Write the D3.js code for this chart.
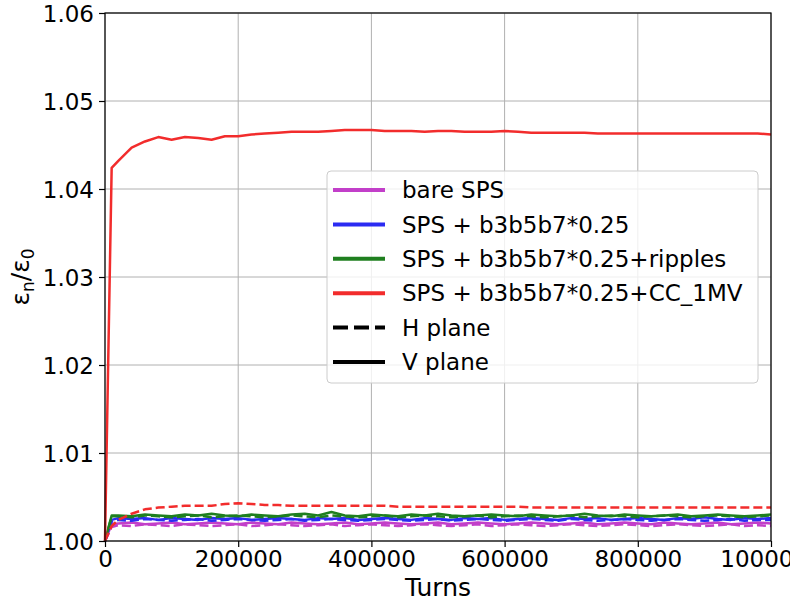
<!DOCTYPE html>
<html>
<head>
<meta charset="utf-8">
<script src="https://cdn.jsdelivr.net/npm/d3@7"></script>
<style>
  html, body { margin: 0; padding: 0; background: #fff; }
  svg { display: block; font-family: "DejaVu Sans", sans-serif; }
</style>
</head>
<body>
<svg id="chart" width="790" height="602"></svg>
<script>
// ---------- DATA ----------
const turns = [0, 10000, 20000, 40000, 60000, 80000, 100000, 120000, 140000, 160000, 180000,
  200000, 220000, 240000, 260000, 280000, 300000, 320000, 340000, 360000, 380000,
  400000, 420000, 440000, 460000, 480000, 500000, 520000, 540000, 560000, 580000,
  600000, 620000, 640000, 660000, 680000, 700000, 720000, 740000, 760000, 780000,
  800000, 820000, 840000, 860000, 880000, 900000, 920000, 940000, 960000, 980000, 1000000];

const magentaH = [1.0000, 1.0016, 1.0018, 1.0017, 1.0019, 1.0018, 1.0017, 1.0019, 1.0018, 1.0017, 1.0018,
  1.0019, 1.0017, 1.0018, 1.0019, 1.0018, 1.0017, 1.0018, 1.0019, 1.0017, 1.0018,
  1.0019, 1.0018, 1.0017, 1.0018, 1.0019, 1.0018, 1.0017, 1.0018, 1.0019, 1.0017,
  1.0018, 1.0019, 1.0018, 1.0017, 1.0018, 1.0019, 1.0018, 1.0017, 1.0018, 1.0019,
  1.0018, 1.0017, 1.0018, 1.0019, 1.0018, 1.0017, 1.0018, 1.0019, 1.0017, 1.0018, 1.0017];
const magentaV = [1.0000, 1.0019, 1.0020, 1.0021, 1.0019, 1.0020, 1.0021, 1.0019, 1.0020, 1.0021, 1.0020,
  1.0019, 1.0021, 1.0020, 1.0019, 1.0021, 1.0020, 1.0019, 1.0020, 1.0021, 1.0019,
  1.0020, 1.0021, 1.0020, 1.0019, 1.0020, 1.0021, 1.0019, 1.0020, 1.0021, 1.0020,
  1.0019, 1.0020, 1.0021, 1.0020, 1.0019, 1.0020, 1.0021, 1.0019, 1.0020, 1.0021,
  1.0020, 1.0019, 1.0021, 1.0020, 1.0019, 1.0020, 1.0021, 1.0019, 1.0020, 1.0021, 1.0020];
const blueH = [1.0000, 1.0022, 1.0024, 1.0023, 1.0025, 1.0024, 1.0023, 1.0024, 1.0025, 1.0023, 1.0024,
  1.0025, 1.0024, 1.0023, 1.0024, 1.0025, 1.0023, 1.0024, 1.0025, 1.0024, 1.0023,
  1.0024, 1.0025, 1.0024, 1.0023, 1.0024, 1.0025, 1.0023, 1.0024, 1.0025, 1.0024,
  1.0023, 1.0024, 1.0025, 1.0024, 1.0023, 1.0025, 1.0024, 1.0023, 1.0024, 1.0025,
  1.0024, 1.0023, 1.0024, 1.0025, 1.0024, 1.0023, 1.0024, 1.0025, 1.0023, 1.0024, 1.0024];
const blueV = [1.0000, 1.0024, 1.0026, 1.0025, 1.0026, 1.0024, 1.0026, 1.0025, 1.0024, 1.0026, 1.0025,
  1.0026, 1.0024, 1.0025, 1.0026, 1.0025, 1.0024, 1.0026, 1.0025, 1.0026, 1.0024,
  1.0025, 1.0026, 1.0025, 1.0024, 1.0026, 1.0025, 1.0024, 1.0026, 1.0025, 1.0026,
  1.0024, 1.0025, 1.0026, 1.0025, 1.0024, 1.0026, 1.0025, 1.0026, 1.0024, 1.0025,
  1.0026, 1.0025, 1.0024, 1.0026, 1.0025, 1.0027, 1.0025, 1.0024, 1.0026, 1.0025, 1.0026];
const greenH = [1.0000, 1.0028, 1.0028, 1.0027, 1.0029, 1.0028, 1.0027, 1.0028, 1.0029, 1.0027, 1.0028,
  1.0029, 1.0028, 1.0027, 1.0028, 1.0029, 1.0028, 1.0027, 1.0029, 1.0028, 1.0027,
  1.0028, 1.0029, 1.0027, 1.0028, 1.0029, 1.0028, 1.0027, 1.0028, 1.0029, 1.0027,
  1.0028, 1.0029, 1.0028, 1.0027, 1.0028, 1.0029, 1.0027, 1.0028, 1.0029, 1.0028,
  1.0027, 1.0028, 1.0029, 1.0028, 1.0027, 1.0028, 1.0029, 1.0028, 1.0027, 1.0028, 1.0029];
const greenV = [1.0000, 1.0029, 1.0029, 1.0028, 1.0030, 1.0029, 1.0028, 1.0030, 1.0029, 1.0031, 1.0029,
  1.0028, 1.0030, 1.0029, 1.0028, 1.0030, 1.0031, 1.0029, 1.0033, 1.0029, 1.0028,
  1.0030, 1.0029, 1.0028, 1.0030, 1.0029, 1.0031, 1.0029, 1.0028, 1.0029, 1.0030,
  1.0029, 1.0028, 1.0030, 1.0029, 1.0028, 1.0029, 1.0031, 1.0029, 1.0028, 1.0030,
  1.0029, 1.0028, 1.0029, 1.0030, 1.0028, 1.0029, 1.0030, 1.0029, 1.0028, 1.0029, 1.0030];
const redH = [1.0000, 1.0017, 1.0024, 1.0031, 1.0036, 1.0038, 1.0039, 1.0040, 1.0040, 1.0040, 1.0042,
  1.0043, 1.0042, 1.0041, 1.0041, 1.0040, 1.0040, 1.0040, 1.0040, 1.0040, 1.0040,
  1.0040, 1.0040, 1.0039, 1.0039, 1.0039, 1.0039, 1.0039, 1.0039, 1.0039, 1.0039,
  1.0039, 1.0039, 1.0038, 1.0038, 1.0038, 1.0038, 1.0038, 1.0038, 1.0038, 1.0038,
  1.0038, 1.0038, 1.0038, 1.0038, 1.0038, 1.0038, 1.0038, 1.0038, 1.0038, 1.0038, 1.0038];
const redV = [1.0000, 1.0424, 1.0432, 1.0447, 1.0454, 1.0459, 1.0456, 1.0459, 1.0458, 1.0456, 1.0460,
  1.0460, 1.0462, 1.0463, 1.0464, 1.0465, 1.0465, 1.0465, 1.0466, 1.0467, 1.0467,
  1.0467, 1.0466, 1.0466, 1.0466, 1.0465, 1.0466, 1.0466, 1.0465, 1.0465, 1.0465,
  1.0466, 1.0465, 1.0464, 1.0464, 1.0464, 1.0464, 1.0464, 1.0463, 1.0463, 1.0463,
  1.0463, 1.0463, 1.0463, 1.0463, 1.0463, 1.0463, 1.0463, 1.0463, 1.0463, 1.0463, 1.0462];

const legendLabels = ["bare SPS", "SPS + b3b5b7*0.25", "SPS + b3b5b7*0.25+ripples", "SPS + b3b5b7*0.25+CC_1MV", "H plane", "V plane"];
const xTicks = [0, 200000, 400000, 600000, 800000, 1000000];
const yTicks = [1.00, 1.01, 1.02, 1.03, 1.04, 1.05, 1.06];

// ---------- LAYOUT ----------
const m = { left: 105, right: 771, top: 13, bottom: 541 };
const colors = { magenta: "#c23fc9", blue: "#2b2bf2", green: "#1f7f1f", red: "#f22c2c" };

const svg = d3.select("#chart");
const x = d3.scaleLinear().domain([0, 1000000]).range([m.left, m.right]);
const y = d3.scaleLinear().domain([1.00, 1.06]).range([m.bottom, m.top]);

// grid
const grid = svg.append("g");
grid.selectAll(".gx").data(xTicks).enter().append("line")
  .attr("x1", d => x(d)).attr("x2", d => x(d)).attr("y1", m.top).attr("y2", m.bottom)
  .attr("stroke", "#b0b0b0").attr("stroke-width", 1);
grid.selectAll(".gy").data(yTicks).enter().append("line")
  .attr("y1", d => y(d)).attr("y2", d => y(d)).attr("x1", m.left).attr("x2", m.right)
  .attr("stroke", "#b0b0b0").attr("stroke-width", 1);

// series
const series = [
  { v: magentaH, c: colors.magenta, dash: true },
  { v: magentaV, c: colors.magenta, dash: false },
  { v: blueH, c: colors.blue, dash: true },
  { v: blueV, c: colors.blue, dash: false },
  { v: greenH, c: colors.green, dash: true },
  { v: greenV, c: colors.green, dash: false },
  { v: redH, c: colors.red, dash: true },
  { v: redV, c: colors.red, dash: false }
];
const line = d3.line().x((d, i) => x(turns[i])).y(d => y(d));
svg.append("g").selectAll("path").data(series).enter().append("path")
  .attr("d", d => line(d.v))
  .attr("fill", "none")
  .attr("stroke", d => d.c)
  .attr("stroke-width", 2.5)
  .attr("stroke-linejoin", "round")
  .attr("stroke-dasharray", d => d.dash ? "9,4" : null);

// axes
const fs = 23;
const xAxis = svg.append("g").attr("transform", `translate(0,${m.bottom})`)
  .call(d3.axisBottom(x).tickValues(xTicks).tickFormat(d3.format("d")).tickSize(6).tickPadding(4));
const yAxis = svg.append("g").attr("transform", `translate(${m.left},0)`)
  .call(d3.axisLeft(y).tickValues(yTicks).tickFormat(d3.format(".2f")).tickSize(6).tickPadding(5));
[xAxis, yAxis].forEach(a => {
  a.select(".domain").remove();
  a.selectAll("text").attr("font-size", fs).attr("font-family", "DejaVu Sans").attr("fill", "#000");
  a.selectAll("line").attr("stroke", "#000").attr("stroke-width", 1.2);
});
yAxis.selectAll("text").attr("dy", "0.36em");

// frame
svg.append("rect").attr("x", m.left).attr("y", m.top)
  .attr("width", m.right - m.left).attr("height", m.bottom - m.top)
  .attr("fill", "none").attr("stroke", "#000").attr("stroke-width", 1.2);

// axis labels
svg.append("text").attr("x", (m.left + m.right) / 2).attr("y", 596)
  .attr("text-anchor", "middle").attr("font-size", 25).text("Turns");
const yl = svg.append("text").attr("transform", "translate(29,277) rotate(-90)")
  .attr("text-anchor", "middle").attr("font-size", 25);
yl.append("tspan").text("ε");
yl.append("tspan").attr("font-size", 17).attr("dy", 5).text("n");
yl.append("tspan").attr("dy", -5).text("/ε");
yl.append("tspan").attr("font-size", 17).attr("dy", 5).text("0");

// legend
const lg = svg.append("g");
lg.append("rect").attr("x", 327).attr("y", 171).attr("width", 431).attr("height", 212)
  .attr("rx", 4).attr("fill", "#fff").attr("fill-opacity", 0.8)
  .attr("stroke", "#cccccc").attr("stroke-width", 1);
const legendColors = [colors.magenta, colors.blue, colors.green, colors.red, "#000", "#000"];
const legendDash = [null, null, null, null, "15,6", null];
legendLabels.forEach((lab, i) => {
  const ry = 190 + i * 34.4;
  lg.append("line").attr("x1", 333).attr("x2", 385).attr("y1", ry).attr("y2", ry)
    .attr("stroke", legendColors[i]).attr("stroke-width", 4)
    .attr("stroke-dasharray", legendDash[i]);
  lg.append("text").attr("x", 402).attr("y", ry).attr("dy", "0.36em")
    .attr("font-size", fs).attr("fill", "#000").text(lab);
});
</script>
</body>
</html>
